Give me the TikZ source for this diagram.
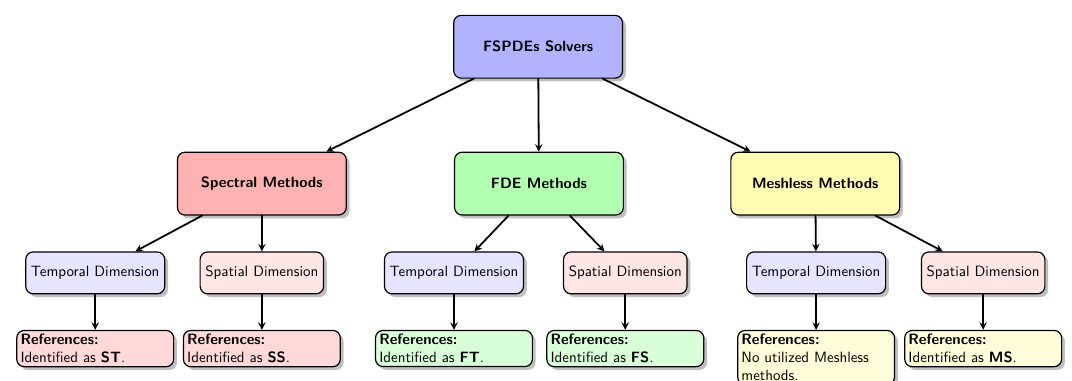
\documentclass[tikz,border=0pt]{standalone}
\usetikzlibrary{shadows}
\renewcommand{\familydefault}{\sfdefault}
\begin{document}
\begin{tikzpicture}[font=\sffamily, line join=round, line cap=round, >=stealth,
	mainbox/.style={draw, thick, rounded corners=5pt, drop shadow, minimum width=113pt, minimum height=42pt, font=\sffamily\bfseries},
	dimbox/.style={draw, thick, rounded corners=5pt, drop shadow, minimum height=28pt, inner xsep=3.5pt},
	refbox/.style={draw, thick, rounded corners=5pt, drop shadow, anchor=north, text width=100pt, align=left, inner sep=2.5pt},
	link/.style={->, very thick}]
	\useasboundingbox (0,0) rectangle (25.22,8.96);
	% top level
	\node[mainbox, fill=blue!30] (solv) at (12.66,7.86) {FSPDEs Solvers};
	\node[mainbox, fill=red!30] (spec) at (6.16,4.64) {Spectral Methods};
	\node[mainbox, fill=green!30] (fde) at (12.68,4.64) {FDE Methods};
	\node[mainbox, fill=yellow!30] (mesh) at (19.18,4.64) {Meshless Methods};
	\foreach \m in {spec,fde,mesh}\draw[link] (solv)--(\m);
	
	% dimensions
	\node[dimbox, fill=blue!10] (st) at (2.24,2.54) {Temporal Dimension};
	\node[dimbox, fill=red!10] (ss) at (6.16,2.54) {Spatial Dimension};
	\node[dimbox, fill=blue!10] (ft) at (10.68,2.54) {Temporal Dimension};
	\node[dimbox, fill=red!10] (fs) at (14.71,2.54) {Spatial Dimension};
	\node[dimbox, fill=blue!10] (mt) at (19.20,2.54) {Temporal Dimension};
	\node[dimbox, fill=red!10] (ms) at (23.13,2.54) {Spatial Dimension};
	\draw[link] (spec)--(st); \draw[link] (spec)--(ss);
	\draw[link] (fde)--(ft); \draw[link] (fde)--(fs);
	\draw[link] (mesh)--(mt); \draw[link] (mesh)--(ms);
	
	% references
	\node[refbox, fill=red!15] (rst) at (2.24,1.20) {\textbf{References:}\\Identified as \textbf{ST}.};
	\node[refbox, fill=red!15] (rss) at (6.16,1.20) {\textbf{References:}\\Identified as \textbf{SS}.};
	\node[refbox, fill=green!15] (rft) at (10.68,1.20) {\textbf{References:}\\Identified as \textbf{FT}.};
	\node[refbox, fill=green!15] (rfs) at (14.71,1.20) {\textbf{References:}\\Identified as \textbf{FS}.};
	\node[refbox, fill=yellow!15] (rmt) at (19.20,1.20) {\textbf{References:}\\No utilized Meshless methods.};
	\node[refbox, fill=yellow!15] (rms) at (23.13,1.20) {\textbf{References:}\\Identified as \textbf{MS}.};
	\foreach \a/\b in {st/rst,ss/rss,ft/rft,fs/rfs,mt/rmt,ms/rms}\draw[link] (\a)--(\b);
\end{tikzpicture}
\end{document}
